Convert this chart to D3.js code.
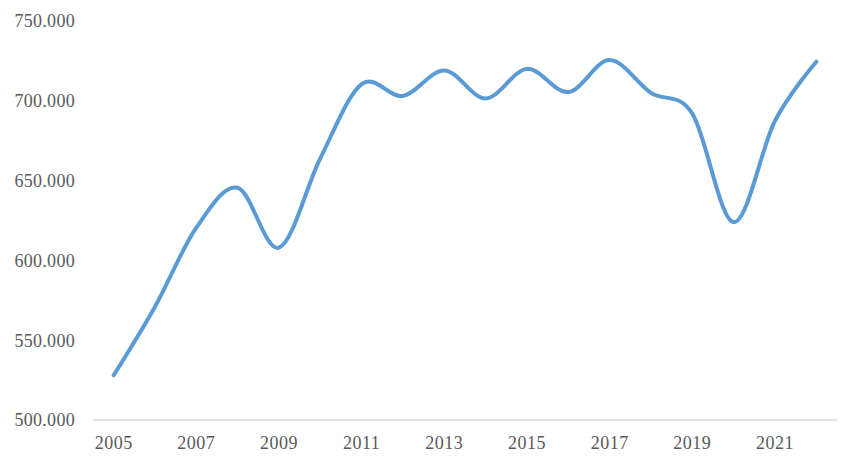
<!DOCTYPE html>
<html><head><meta charset="utf-8">
<script src="https://cdn.jsdelivr.net/npm/d3@7"></script>
<style>body{margin:0;background:#fff}svg{display:block}</style>
</head><body>
<svg id="c" width="861" height="469"></svg>
<script>
const years = [2005,2006,2007,2008,2009,2010,2011,2012,2013,2014,2015,2016,2017,2018,2019,2020,2021,2022];
const values = [528000,571000,620500,645500,608000,664000,710500,703000,719000,701500,720000,705500,725500,705000,692000,624000,687500,724500];
const yTicks = [500000,550000,600000,650000,700000,750000];
const xLabelYears = [2005,2007,2009,2011,2013,2015,2017,2019,2021];

const svg = d3.select("#c");
const x = d3.scaleBand().domain(years).range([93,837]);
const y = d3.scaleLinear().domain([500000,750000]).range([420,21]);
const font = "'Liberation Serif', serif";
const fmt = d3.formatLocale({decimal:",", thousands:".", grouping:[3], currency:["",""]}).format(",");

svg.append("line").attr("x1",93).attr("x2",837).attr("y1",y(500000)).attr("y2",y(500000))
  .attr("stroke","#d9d9d9").attr("stroke-width",1.3);

svg.append("g").selectAll("text").data(yTicks).join("text")
  .attr("x",75).attr("y",d=>y(d)).attr("dy","0.35em").attr("text-anchor","end")
  .attr("font-family",font).attr("font-size",18).attr("fill","#595959")
  .attr("letter-spacing","0.3px")
  .text(d=>fmt(d));

svg.append("g").selectAll("text").data(xLabelYears).join("text")
  .attr("x",d=>x(d)+x.bandwidth()/2).attr("y",449).attr("text-anchor","middle")
  .attr("font-family",font).attr("font-size",18).attr("fill","#595959")
  .attr("letter-spacing","0.5px")
  .text(d=>d);

const line = d3.line().x((d,i)=>x(years[i])+x.bandwidth()/2).y(d=>y(d))
  .curve(d3.curveCardinal.tension(0));
svg.append("path").datum(values).attr("d",line).attr("fill","none")
  .attr("stroke","#5b9bd5").attr("stroke-width",4).attr("stroke-linecap","round").attr("stroke-linejoin","round");
</script>
</body></html>
